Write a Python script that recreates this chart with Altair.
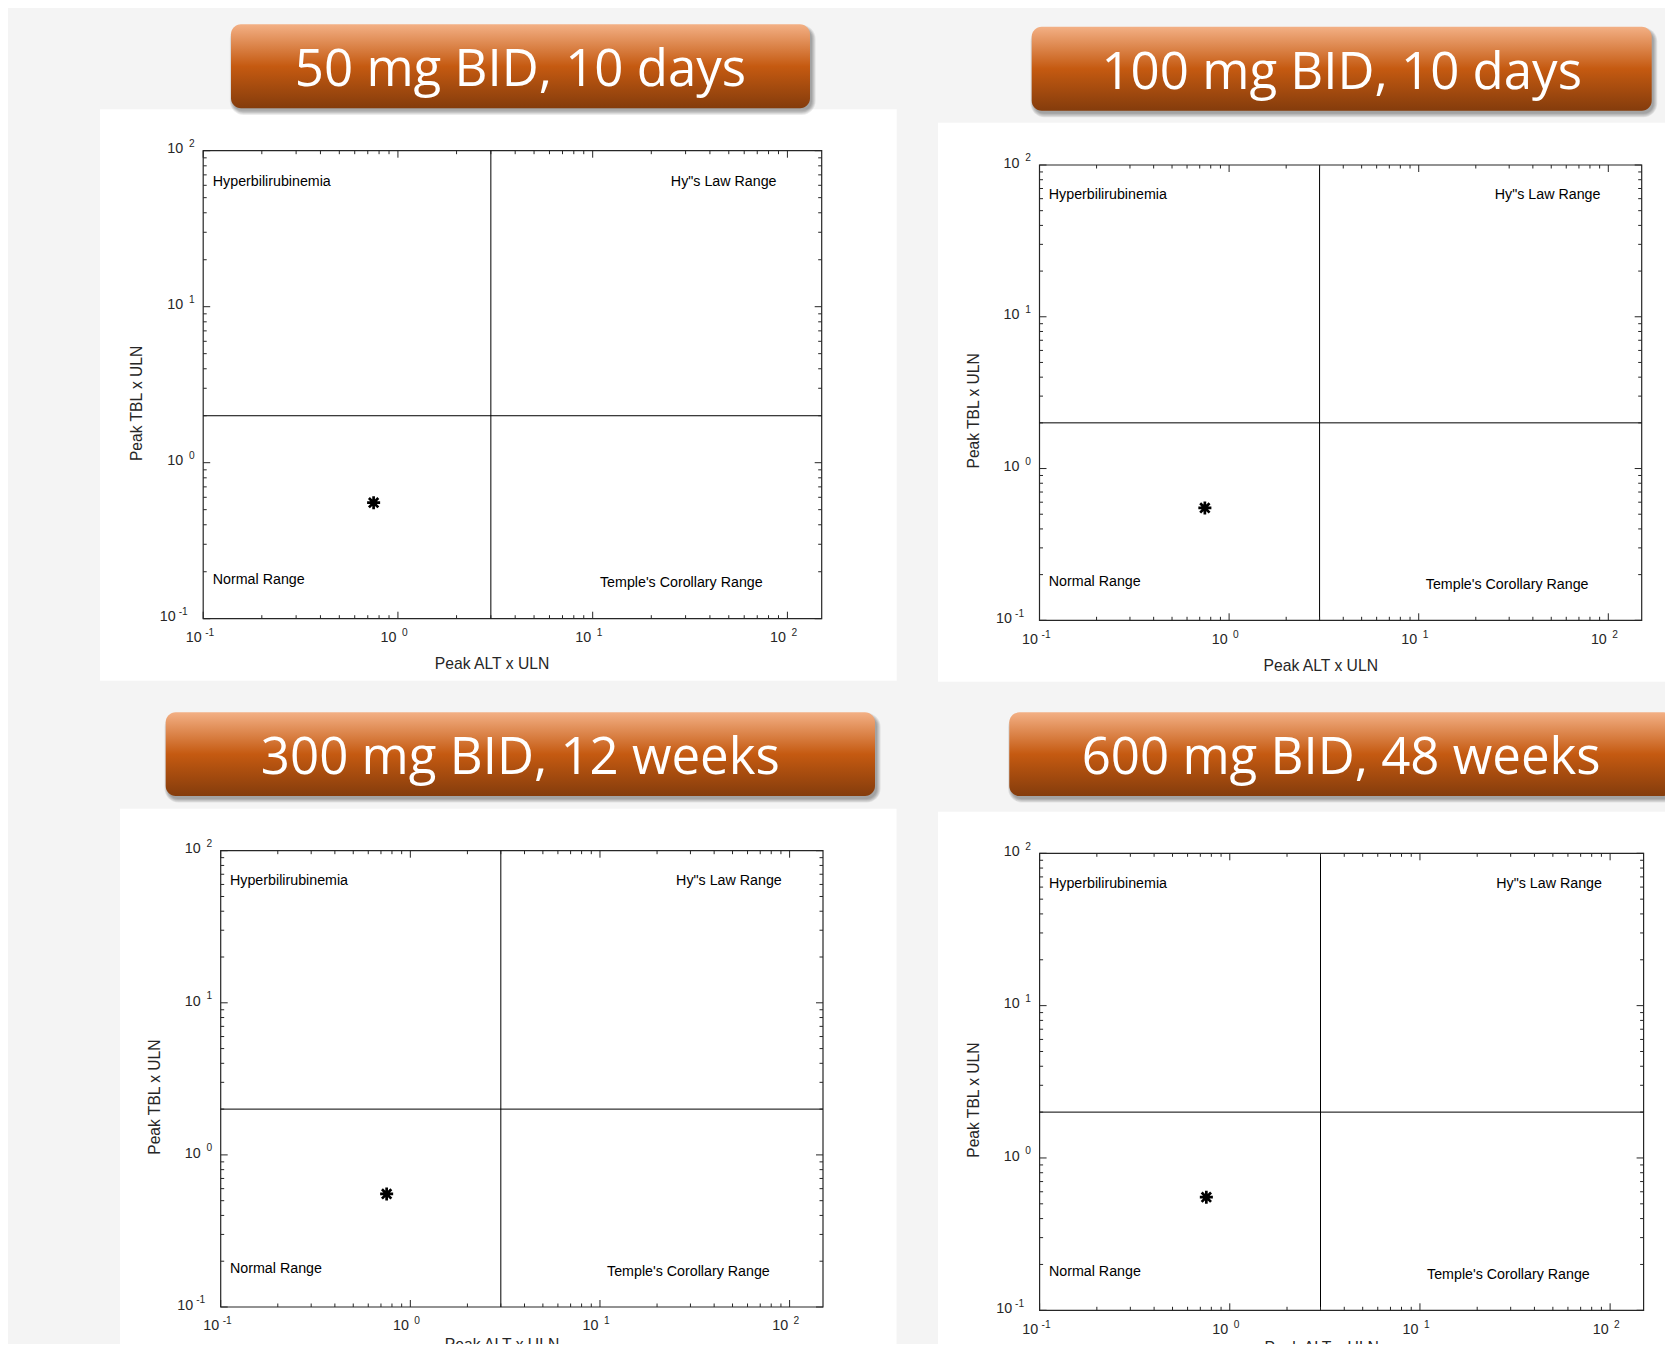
import altair as alt
import pandas as pd

# ---------------- data ----------------
panel_titles = ["50 mg BID, 10 days", "100 mg BID, 10 days",
                "300 mg BID, 12 weeks", "600 mg BID, 48 weeks"]
peak_alt_uln = [0.75, 0.745, 0.75, 0.753]
peak_tbl_uln = [0.554, 0.55, 0.554, 0.553]
alt_threshold = 3.0
tbl_threshold = 2.0
x_domain = [0.1, 150.0]
y_domain = [0.1, 100.0]
tick_exponents = [-1, 0, 1, 2]
tick_base = "10"
minor_multipliers = [2, 3, 4, 5, 6, 7, 8, 9]
region_labels = ["Hyperbilirubinemia", 'Hy"s Law Range', "Normal Range", "Temple's Corollary Range"]
region_label_alt = [0.112, 25.2, 0.112, 10.9]
region_label_tbl = [59.5, 59.5, 0.168, 0.16]
x_axis_title = "Peak ALT x ULN"
y_axis_title = "Peak TBL x ULN"

# ---------------- layout (styles / geometry) ----------------
OFF = 8
W, H = 1657, 1336
LAYOUT = [
    {"plot": (203.2, 150.7, 821.7, 618.7), "panel": (100, 109.3, 896.7, 680.7), "header": (231, 24.3, 810, 108.3), "xt": 0},
    {"plot": (1039.5, 165.0, 1641.7, 620.3), "panel": (938, 122.7, 1673, 681.7), "header": (1031.7, 26.7, 1651.7, 110.7), "xt": 0},
    {"plot": (220.7, 850.7, 823.0, 1307.0), "panel": (120, 808.7, 896.5, 1352), "header": (165.7, 712.3, 875, 796), "xt": -8},
    {"plot": (1039.6, 853.3, 1643.6, 1310.3), "panel": (938, 811.7, 1673, 1352), "header": (1009.3, 712.3, 1673, 796), "xt": -8},
]
FONT = "Liberation Sans"
AX_COLOR = "#262626"
ASTERISK = "M0,-1L0,1M-1,0L1,0M-0.72,-0.72L0.72,0.72M-0.72,0.72L0.72,-0.72"

one = pd.DataFrame({"k": [0]})


def P(v):
    return v - OFF


def box(x0, y0, x1, y1, **mark):
    return alt.Chart(one).mark_rect(**mark).encode(
        x=alt.value(P(x0)), x2=alt.value(P(x1)), y=alt.value(P(y0)), y2=alt.value(P(y1)))


# ---------------- background: white panels + headers ----------------
deco = []
for lay in LAYOUT:
    deco.append(box(*lay["panel"], fill="white"))
for i, lay in enumerate(LAYOUT):
    x0, y0, x1, y1 = lay["header"]
    for j in range(5):
        deco.append(box(x0 + 2 - j * 0.8, y0 + 4 - j * 0.8, x1 + 2 + j * 0.9, y1 + 3 + j * 0.9,
                        fill="black", opacity=0.075, cornerRadius=10 + j))
    grad = alt.Gradient(gradient="linear", x1=0, x2=0, y1=0, y2=1,
                        stops=[alt.GradientStop(color="#f3b085", offset=0),
                               alt.GradientStop(color="#c55a11", offset=0.5),
                               alt.GradientStop(color="#843c0c", offset=1)])
    deco.append(box(x0, y0, x1, y1, fill=grad, cornerRadius=10))
    deco.append(
        alt.Chart(pd.DataFrame({"title": [panel_titles[i]]}))
        .mark_text(font="Open Sans", fontSize=51, color="white", align="center", baseline="alphabetic")
        .encode(x=alt.value(P((x0 + x1) / 2)), y=alt.value(P(y0 + 61.8)), text="title:N")
    )
background = alt.layer(*deco)

# ---------------- tick tables ----------------
majors = [10.0 ** e for e in tick_exponents]
x_minor = [m * 10.0 ** e for e in tick_exponents for m in minor_multipliers if m * 10.0 ** e < x_domain[1]]
y_minor = [m * 10.0 ** e for e in tick_exponents for m in minor_multipliers if m * 10.0 ** e < y_domain[1]]
major_df = pd.DataFrame({"v": majors, "base": [tick_base] * len(majors),
                         "exp": [str(e) for e in tick_exponents]})
xminor_df = pd.DataFrame({"v": x_minor})
yminor_df = pd.DataFrame({"v": y_minor})
regions_df = pd.DataFrame({"label": region_labels, "qx": region_label_alt, "qy": region_label_tbl})
frame_df = pd.DataFrame({"x0": [x_domain[0]], "x1": [x_domain[1]], "y0": [y_domain[0]], "y1": [y_domain[1]]})
thr_df = pd.DataFrame({"a": [alt_threshold], "t": [tbl_threshold],
                       "x0": [x_domain[0]], "x1": [x_domain[1]], "y0": [y_domain[0]], "y1": [y_domain[1]]})

MAJ, MIN = 7, 3.5
TICK_FS, EXP_FS = 14.3, 10.2


def panel(i):
    L, T, R, B = [P(v) for v in LAYOUT[i]["plot"]]
    xs = alt.Scale(type="log", domain=x_domain, range=[L, R], nice=False)
    ys = alt.Scale(type="log", domain=y_domain, range=[B, T], nice=False)
    X = lambda f: alt.X(f, scale=xs, axis=None)
    Y = lambda f: alt.Y(f, scale=ys, axis=None)
    layers = []
    # frame
    layers.append(alt.Chart(frame_df).mark_rect(fillOpacity=0, stroke=AX_COLOR, strokeWidth=1.2)
                  .encode(x=X("x0:Q"), x2="x1:Q", y=Y("y0:Q"), y2="y1:Q"))
    # thresholds
    layers.append(alt.Chart(thr_df).mark_rule(color="black", strokeWidth=1)
                  .encode(x=X("a:Q"), y=Y("y0:Q"), y2="y1:Q"))
    layers.append(alt.Chart(thr_df).mark_rule(color="black", strokeWidth=1)
                  .encode(y=Y("t:Q"), x=X("x0:Q"), x2="x1:Q"))
    # ticks (inward, all four sides)
    for df, ln in ((major_df, MAJ), (xminor_df, MIN)):
        layers.append(alt.Chart(df).mark_rule(color=AX_COLOR, strokeWidth=1)
                      .encode(x=X("v:Q"), y=alt.value(B), y2=alt.value(B - ln)))
        layers.append(alt.Chart(df).mark_rule(color=AX_COLOR, strokeWidth=1)
                      .encode(x=X("v:Q"), y=alt.value(T), y2=alt.value(T + ln)))
    for df, ln in ((major_df, MAJ), (yminor_df, MIN)):
        layers.append(alt.Chart(df).mark_rule(color=AX_COLOR, strokeWidth=1)
                      .encode(y=Y("v:Q"), x=alt.value(L), x2=alt.value(L + ln)))
        layers.append(alt.Chart(df).mark_rule(color=AX_COLOR, strokeWidth=1)
                      .encode(y=Y("v:Q"), x=alt.value(R), x2=alt.value(R - ln)))
    # x tick labels
    layers.append(alt.Chart(major_df).mark_text(font=FONT, fontSize=TICK_FS, color=AX_COLOR, align="right",
                                                baseline="alphabetic", dx=-1.5)
                  .encode(x=X("v:Q"), y=alt.value(B + 23.4), text="base:N"))
    for cond, ddx in (("datum.v >= 1", 4), ("datum.v < 1", 2)):
        layers.append(alt.Chart(major_df).transform_filter(cond)
                      .mark_text(font=FONT, fontSize=EXP_FS, color=AX_COLOR, align="left",
                                 baseline="alphabetic", dx=ddx)
                      .encode(x=X("v:Q"), y=alt.value(B + 17.2), text="exp:N"))
    # y tick labels
    for cond, bx in (("datum.v >= 1", L - 20), ("datum.v < 1", L - 27.5)):
        layers.append(alt.Chart(major_df).transform_filter(cond)
                      .mark_text(font=FONT, fontSize=TICK_FS, color=AX_COLOR, align="right", baseline="alphabetic", dy=2.7)
                      .encode(y=Y("v:Q"), x=alt.value(bx), text="base:N"))
    for cond, ex in (("datum.v >= 1", L - 14.3), ("datum.v < 1", L - 24.5)):
        layers.append(alt.Chart(major_df).transform_filter(cond)
                      .mark_text(font=FONT, fontSize=EXP_FS, color=AX_COLOR, align="left", baseline="alphabetic", dy=-3.8)
                      .encode(y=Y("v:Q"), x=alt.value(ex), text="exp:N"))
    # axis titles
    layers.append(alt.Chart(one).mark_text(font=FONT, fontSize=15.7, color=AX_COLOR, align="center",
                                           baseline="alphabetic")
                  .encode(x=alt.value(L + 0.467 * (R - L)), y=alt.value(B + 50.6 + LAYOUT[i]["xt"]),
                          text=alt.value(x_axis_title)))
    layers.append(alt.Chart(one).mark_text(font=FONT, fontSize=15.6, color=AX_COLOR, align="center",
                                           baseline="middle", angle=270)
                  .encode(x=alt.value(L - 66), y=alt.value(T + 0.54 * (B - T)), text=alt.value(y_axis_title)))
    # region labels
    layers.append(alt.Chart(regions_df).mark_text(font=FONT, fontSize=14.25, color="black", align="left",
                                                  baseline="alphabetic")
                  .encode(x=X("qx:Q"), y=Y("qy:Q"), text="label:N"))
    # the data point
    pt = pd.DataFrame({"alt_uln": [peak_alt_uln[i]], "tbl_uln": [peak_tbl_uln[i]]})
    layers.append(alt.Chart(pt).mark_point(shape=ASTERISK, size=170, filled=False, stroke="black",
                                           strokeWidth=2.7, opacity=1)
                  .encode(x=X("alt_uln:Q"), y=Y("tbl_uln:Q")))
    return alt.layer(*layers)


chart = (
    alt.layer(background, *[panel(i) for i in range(4)])
    .resolve_scale(x="independent", y="independent")
    .properties(width=W, height=H, background="#f4f4f4", padding=0,
                autosize=alt.AutoSizeParams(type="none"))
    .configure_view(stroke=None)
)

chart.save("out.html", embed_options={"renderer": "svg", "actions": False})
